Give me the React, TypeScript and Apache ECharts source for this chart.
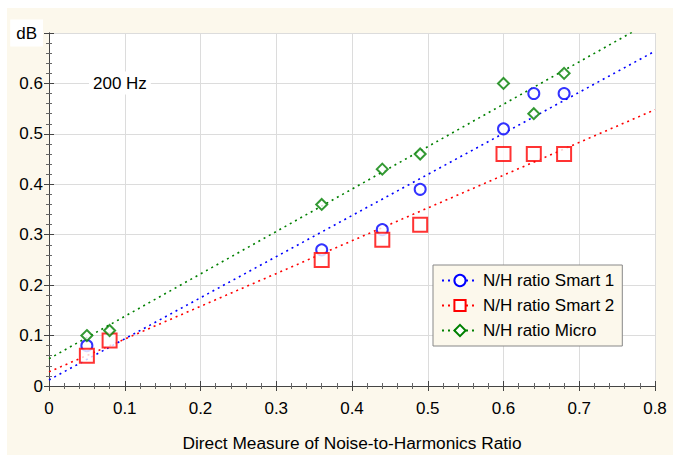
import React, { useEffect, useRef } from "react";
import * as echarts from "echarts";

const seriesNames = ["N/H ratio Smart 1", "N/H ratio Smart 2", "N/H ratio Micro"];
const seriesColors = ["#0000ff", "#ff0000", "#008000"];
const seriesSymbols = ["emptyCircle", "emptyRect", "emptyDiamond"];

const smart1X = [0.05, 0.36, 0.44, 0.49, 0.6, 0.64, 0.68];
const smart1Y = [0.08, 0.27, 0.31, 0.39, 0.51, 0.58, 0.58];

const smart2X = [0.05, 0.08, 0.36, 0.44, 0.49, 0.6, 0.64, 0.68];
const smart2Y = [0.06, 0.09, 0.25, 0.29, 0.32, 0.46, 0.46, 0.46];

const microX = [0.05, 0.08, 0.36, 0.44, 0.49, 0.6, 0.64, 0.68];
const microY = [0.1, 0.11, 0.36, 0.43, 0.46, 0.6, 0.54, 0.62];

// fitted lines: values read at x = 0 and x = 0.8
const fitX = [0, 0.8];
const fitSmart1 = [0.012, 0.664];
const fitSmart2 = [0.028, 0.548];
const fitMicro = [0.054, 0.727];

const xTicks = [0, 0.1, 0.2, 0.3, 0.4, 0.5, 0.6, 0.7, 0.8];
const yTicks = [0, 0.1, 0.2, 0.3, 0.4, 0.5, 0.6, 0.7];

const FONT = "Liberation Sans, Arial, sans-serif";

export default function App() {
  const ref = useRef<HTMLDivElement>(null);
  useEffect(() => {
    document.body.style.margin = "0";
    const chart = echarts.init(ref.current!, undefined, { renderer: "svg" });
    const zip = (xs: number[], ys: number[]) => xs.map((x, i) => [x, ys[i]]);
    const pts = [zip(smart1X, smart1Y), zip(smart2X, smart2Y), zip(microX, microY)];
    const fits = [zip(fitX, fitSmart1), zip(fitX, fitSmart2), zip(fitX, fitMicro)];
    const symSizes = [11, 14, 11];

    const axisLine = { show: true, lineStyle: { color: "#444", width: 1 } };
    const tick = { show: true, inside: true, length: 5, lineStyle: { color: "#444" } };
    const minor = { show: true, splitNumber: 5, length: 3, lineStyle: { color: "#666" } };

    const option: any = {
      animation: false,
      backgroundColor: "#ffffff",
      graphic: [
        { type: "rect", z: -100, silent: true, shape: { x: 7, y: 8, width: 666, height: 447 }, style: { fill: "#fcf8ec" } },
        {
          type: "text",
          x: 89,
          y: 83,
          z: 100,
          style: {
            text: "200 Hz",
            fontSize: 17,
            fontFamily: FONT,
            fill: "#000",
            verticalAlign: "middle",
            backgroundColor: "#fff",
            padding: [3, 4],
          },
        },
      ],
      grid: { left: 49, right: 18, top: 33, bottom: 74, show: true, backgroundColor: "#ffffff", borderWidth: 0 },
      legend: {
        orient: "vertical",
        left: 433,
        top: 265,
        data: seriesNames,
        backgroundColor: "#fcf8ec",
        borderColor: "#888",
        borderWidth: 1,
        padding: [7, 8, 7, 8],
        itemWidth: 36,
        itemHeight: 14,
        itemGap: 8,
        textStyle: { fontSize: 17, fontFamily: FONT, color: "#000" },
        selectedMode: false,
      },
      xAxis: [
        {
          type: "value",
          min: xTicks[0],
          max: xTicks[xTicks.length - 1],
          interval: 0.1,
          position: "bottom",
          name: "Direct Measure of Noise-to-Harmonics Ratio",
          nameLocation: "middle",
          nameGap: 48,
          nameTextStyle: { fontSize: 17.3, fontFamily: FONT, color: "#000" },
          axisLine,
          axisTick: tick,
          minorTick: minor,
          axisLabel: { fontSize: 17, fontFamily: FONT, color: "#000", margin: 14 },
          splitLine: { show: true, lineStyle: { color: "#dcdcdc", width: 1 } },
        },
        {
          type: "value",
          min: xTicks[0],
          max: xTicks[xTicks.length - 1],
          interval: 0.1,
          position: "top",
          axisLine,
          axisTick: tick,
          minorTick: minor,
          axisLabel: { show: false },
          splitLine: { show: false },
        },
      ],
      yAxis: [
        {
          type: "value",
          min: yTicks[0],
          max: yTicks[yTicks.length - 1],
          interval: 0.1,
          position: "left",
          axisLine,
          axisTick: tick,
          minorTick: minor,
          axisLabel: {
            fontSize: 17,
            fontFamily: FONT,
            color: "#000",
            margin: 6,
            formatter: (v: number) => (Math.abs(v - 0.7) < 1e-6 ? "{db|dB}" : String(Math.round(v * 10) / 10)),
            rich: {
              db: { fontSize: 17, fontFamily: FONT, color: "#000", backgroundColor: "#fff", padding: [5, 6, 5, 6] },
            },
          },
          splitLine: { show: true, lineStyle: { color: "#dcdcdc", width: 1 } },
        },
        {
          type: "value",
          min: yTicks[0],
          max: yTicks[yTicks.length - 1],
          interval: 0.1,
          position: "right",
          axisLine,
          axisTick: tick,
          minorTick: minor,
          axisLabel: { show: false },
          splitLine: { show: false },
        },
      ],
      series: [
        ...seriesNames.map((name, i) => ({
          name,
          type: "line",
          data: fits[i],
          showSymbol: false,
          symbol: seriesSymbols[i],
          symbolSize: symSizes[i],
          color: seriesColors[i],
          itemStyle: { color: seriesColors[i], borderColor: seriesColors[i], borderWidth: 2 },
          lineStyle: { color: seriesColors[i], width: 1.6, type: [2, 4] },
          silent: true,
          z: 2,
        })),
        ...seriesNames.map((name, i) => ({
          name,
          type: "scatter",
          data: pts[i],
          symbol: seriesSymbols[i],
          symbolSize: symSizes[i],
          itemStyle: { color: seriesColors[i], borderColor: seriesColors[i], borderWidth: i === 2 ? 1.5 : 2 },
          z: 3,
        })),
      ],
    };
    chart.setOption(option);
    return () => chart.dispose();
  }, []);
  return <div ref={ref} style={{ width: 673, height: 460 }} />;
}
